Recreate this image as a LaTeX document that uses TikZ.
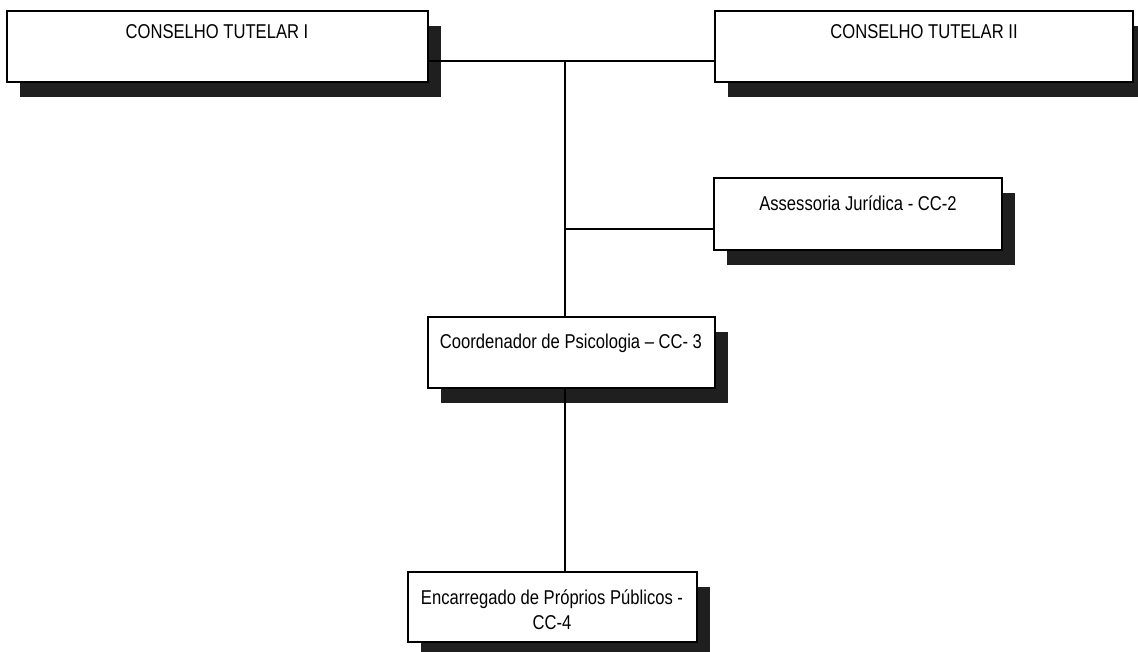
\documentclass[tikz,border=0pt]{standalone}
\usepackage{fontspec}
\usepackage{graphicx}
\setmainfont{Liberation Sans}
\usetikzlibrary{shadows}
% condensed sans lettering
\newcommand{\narrowtxt}[1]{\scalebox{0.83}[1]{#1}}
\begin{document}
\begin{tikzpicture}[x=1pt,y=-1pt,
  orgbox/.style={draw=black, line width=1.6pt, fill=white, anchor=north west,
    inner sep=0pt, outer sep=0pt,
    drop shadow={shadow xshift=13pt, shadow yshift=-15pt, fill=black!88, opacity=1}},
  boxtext/.style={font=\fontsize{20}{25}\selectfont, align=center, inner sep=0pt},
  link/.style={line width=1.6pt, draw=black}]
\useasboundingbox (0,0) rectangle (1138,651);

% boxes
\node[orgbox, minimum width=421pt, minimum height=71pt] (b1) at (7,11) {};
\node[orgbox, minimum width=418pt, minimum height=71pt] (b2) at (715,11) {};
\node[orgbox, minimum width=288pt, minimum height=72pt] (b3) at (714,178) {};
\node[orgbox, minimum width=287pt, minimum height=71pt] (b4) at (428,317) {};
\node[orgbox, minimum width=289pt, minimum height=70pt] (b5) at (408,572) {};

% labels
\node[boxtext] (t1) at (217,32) {\narrowtxt{CONSELHO TUTELAR I}};
\node[boxtext] (t2) at (924,32) {\narrowtxt{CONSELHO TUTELAR II}};
\node[boxtext] (t3) at (858,203) {\narrowtxt{Assessoria Jurídica - CC-2}};
\node[boxtext] (t4) at (571,343) {\narrowtxt{Coordenador de Psicologia – CC- 3}};
\node[boxtext] (t5) at (552,610) {\narrowtxt{Encarregado de Próprios Públicos -}\\\narrowtxt{CC-4}};

% connectors
\coordinate (j1) at (565,61);
\coordinate (j2) at (565,229);
\draw[link] (b1.east |- j1) -- (b2.west |- j1);
\draw[link] (j1) -- (j1 |- b4.north);
\draw[link] (j2) -- (b3.west |- j2);
\draw[link] (j1 |- b4.south) -- (j1 |- b5.north);
\end{tikzpicture}
\end{document}
